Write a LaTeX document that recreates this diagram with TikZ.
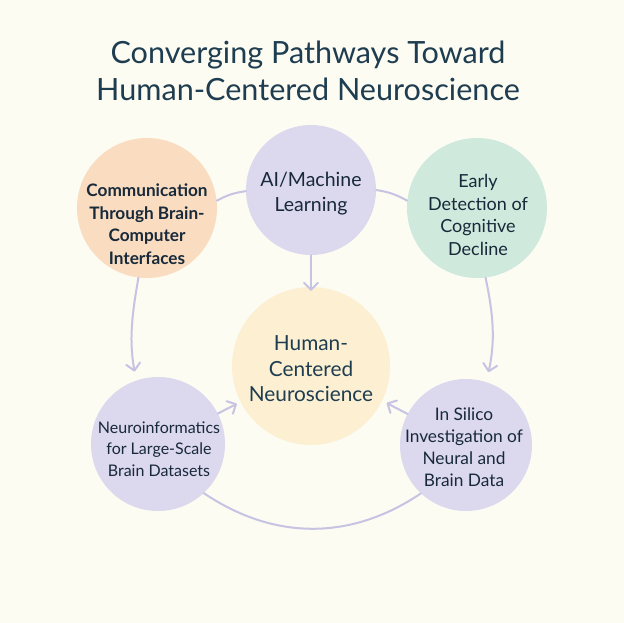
\documentclass[tikz,border=0pt]{standalone}
\usepackage{fontspec}
\setmainfont{Lato}
\usetikzlibrary{arrows.meta}
\definecolor{bg}{HTML}{FDFCF3}
\definecolor{peach}{HTML}{FADDC0}
\definecolor{lav}{HTML}{DCD8EE}
\definecolor{mint}{HTML}{CFE9DC}
\definecolor{cream}{HTML}{FCEFD2}
\definecolor{linkc}{HTML}{C6C3E3}
\definecolor{ink}{HTML}{17293A}
\definecolor{titlec}{HTML}{1E3D50}
\begin{document}
\begin{tikzpicture}[x=1pt,y=1pt,
  bubble/.style={circle,draw=none,inner sep=0pt},
  lbl/.style={align=center,text=ink,inner sep=0pt},
  link/.style={draw=linkc,line width=2pt,line cap=round},
  arr/.style={link,-{Straight Barb[length=7pt,width=14pt,line width=2pt,round]}}]
\fill[bg] (0,0) rectangle (624,-623);
\useasboundingbox (0,0) rectangle (624,-623);
% title
\node[align=center,text=titlec,inner sep=0pt,font=\fontsize{30.6}{37}\selectfont] (title) at (308,-71)
  {Converging Pathways Toward\\Human-Centered Neuroscience};
% bubbles
\node[bubble,fill=lav,minimum size=130pt] (ai) at (311,-190) {};
\node[bubble,fill=peach,minimum size=140pt] (comm) at (147,-208) {};
\node[bubble,fill=mint,minimum size=140pt] (early) at (477,-208) {};
\node[bubble,fill=cream,minimum size=158pt] (center) at (311,-366) {};
\node[bubble,fill=lav,minimum size=134pt] (neuro) at (158,-444) {};
\node[bubble,fill=lav,minimum size=132pt] (insilico) at (466,-445) {};
% labels
\node[lbl,font=\fontsize{19.5}{25}\selectfont] (tai) at (311,-194) {AI/Machine\\Learning};
\node[lbl,font=\bfseries\fontsize{17.2}{22.5}\selectfont] (tcomm) at (147,-224) {Communication\\Through Brain-\\Computer\\Interfaces};
\node[lbl,font=\fontsize{18}{22.7}\selectfont] (tearly) at (478,-215) {Early\\Detection of\\Cognitive\\Decline};
\node[lbl,font=\fontsize{20.8}{25.5}\selectfont,text=titlec] (tcenter) at (311,-369) {Human-\\Centered\\Neuroscience};
\node[lbl,font=\fontsize{16}{21.5}\selectfont] (tneuro) at (159,-449) {Neuroinformatics\\for Large-Scale\\Brain Datasets};
\node[lbl,font=\fontsize{17.3}{22}\selectfont] (tinsilico) at (464,-447) {In Silico\\Investigation of\\Neural and\\Brain Data};
% connectors
\draw[link] (comm.6) to[bend left=10] (ai.181);
\draw[link] (ai.0) to[bend left=10] (early.174);
\draw[arr] (ai.south) -- ([yshift=-4pt]center.north);
\draw[arr,shorten >=9pt] (comm.-97) to[out=-100,in=100] (neuro.109);
\draw[arr,shorten >=10pt] (early.-83) to[out=-78,in=78] (insilico.72);
\draw[arr,shorten >=4pt] (neuro.27) -- (center.207);
\draw[arr,shorten >=5pt] (insilico.152) -- (center.-26);
\draw[link] (neuro.-47) to[out=-34,in=-146] (insilico.-133);
\end{tikzpicture}
\end{document}
